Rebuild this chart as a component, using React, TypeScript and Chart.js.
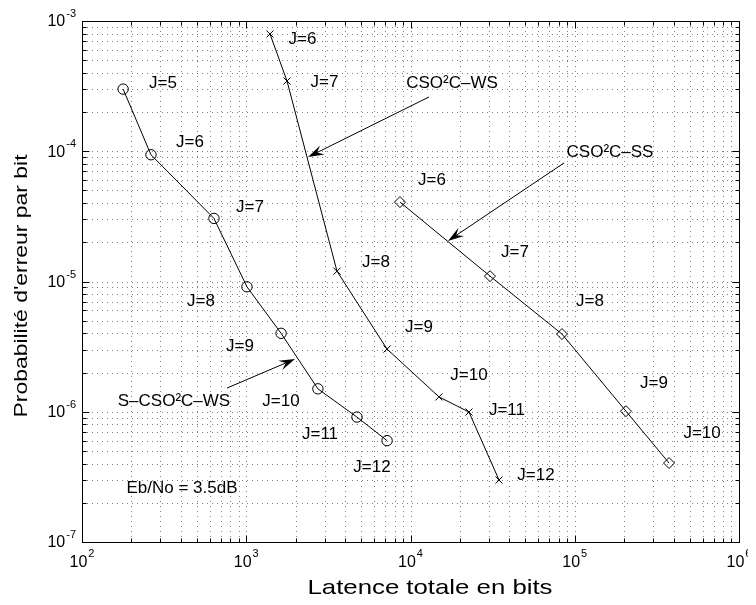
import { useEffect, useRef } from "react";
import { Chart, registerables } from "chart.js";

Chart.register(...registerables);

// S-CSO²C-WS (circles), J = 5 … 12
const latenceSWS = [178, 263, 636, 1010, 1630, 2730, 4720, 7200];
const erreurSWS = [3.0e-4, 9.4e-5, 3.05e-5, 9.1e-6, 4.0e-6, 1.5e-6, 9.1e-7, 6.0e-7];
const labelsSWS = ["J=5", "J=6", "J=7", "J=8", "J=9", "J=10", "J=11", "J=12"];
const labelXSWS = [311, 454, 1054, 530, 916, 1628, 2812, 5830];
const labelYSWS = [3.34e-4, 1.18e-4, 3.73e-5, 7.08e-6, 3.2e-6, 1.21e-6, 6.75e-7, 3.77e-7];

// CSO²C-WS (crosses), J = 6 … 12
const latenceWS = [1395, 1771, 3568, 7194, 14910, 22700, 34590];
const erreurWS = [7.95e-4, 3.46e-4, 1.2e-5, 3.03e-6, 1.3e-6, 9.95e-7, 2.99e-7];
const labelsWS = ["J=6", "J=7", "J=8", "J=9", "J=10", "J=11", "J=12"];
const labelXWS = [2200, 2995, 6166, 11270, 22700, 38670, 58080];
const labelYWS = [7.18e-4, 3.36e-4, 1.41e-5, 4.48e-6, 1.91e-6, 1.03e-6, 3.27e-7];

// CSO²C-SS (diamonds), J = 6 … 10
const latenceSS = [8630, 30480, 83600, 205000, 375000];
const erreurSS = [4.07e-5, 1.1e-5, 3.95e-6, 1.01e-6, 4.04e-7];
const labelsSS = ["J=6", "J=7", "J=8", "J=9", "J=10"];
const labelXSS = [13520, 43270, 123900, 303800, 595700];
const labelYSS = [6.02e-5, 1.68e-5, 7.08e-6, 1.66e-6, 6.87e-7];

// Curve names and the operating point note
const noteTexts = ["CSO²C–WS", "CSO²C–SS", "S–CSO²C–WS", "Eb/No = 3.5dB"];
const noteX = [17890, 163900, 363, 406];
const noteY = [3.34e-4, 9.87e-5, 1.21e-6, 2.6e-7];

// Arrows pointing from the curve names to the curves
const arrowFromX = [12960, 86000, 763];
const arrowFromY = [2.61e-4, 8.13e-5, 1.52e-6];
const arrowToX = [2377, 16910, 1981];
const arrowToY = [9.03e-5, 2.05e-5, 2.54e-6];

// Decade exponents of the two log axes
const xExponents = [2, 3, 4, 5, 6];
const yExponents = [-7, -6, -5, -4, -3];

const xTitle = "Latence totale en bits";
const yTitle = "Probabilité d'erreur par bit";

const FONT = '"Liberation Sans", Arial, Helvetica, sans-serif';

function gridValues(exps: number[]) {
  const out: { v: number; major: boolean }[] = [];
  for (let i = 0; i < exps.length; i++) {
    const base = Math.pow(10, exps[i]);
    out.push({ v: base, major: true });
    if (i < exps.length - 1) {
      for (let m = 2; m <= 9; m++) out.push({ v: m * base, major: false });
    }
  }
  return out;
}

const matlabAxes = {
  id: "matlabAxes",
  beforeDatasetsDraw(chart: any) {
    const { ctx, chartArea: a, scales } = chart;
    const xs = scales.x;
    const ys = scales.y;
    ctx.save();
    ctx.strokeStyle = "rgba(0,0,0,0.5)";
    ctx.lineWidth = 1;
    ctx.setLineDash([1, 4]);
    for (const g of gridValues(xExponents)) {
      const px = Math.round(xs.getPixelForValue(g.v)) + 0.5;
      if (px <= a.left + 1 || px >= a.right - 1) continue;
      ctx.beginPath();
      ctx.moveTo(px, a.top);
      ctx.lineTo(px, a.bottom);
      ctx.stroke();
    }
    for (const g of gridValues(yExponents)) {
      const py = Math.round(ys.getPixelForValue(g.v)) + 0.5;
      if (py <= a.top + 1 || py >= a.bottom - 1) continue;
      ctx.beginPath();
      ctx.moveTo(a.left, py);
      ctx.lineTo(a.right, py);
      ctx.stroke();
    }
    ctx.restore();
  },
  afterDatasetsDraw(chart: any) {
    const { ctx, chartArea: a, scales } = chart;
    const xs = scales.x;
    const ys = scales.y;
    ctx.save();
    ctx.setLineDash([]);
    ctx.strokeStyle = "#000";
    ctx.fillStyle = "#000";
    ctx.lineWidth = 1;

    // box
    const L = Math.round(a.left) + 0.5;
    const R = Math.round(a.right) + 0.5;
    const T = Math.round(a.top) + 0.5;
    const B = Math.round(a.bottom) + 0.5;
    ctx.strokeRect(L, T, R - L, B - T);

    // inward tick marks on all four sides
    ctx.beginPath();
    for (const g of gridValues(xExponents)) {
      const px = Math.round(xs.getPixelForValue(g.v)) + 0.5;
      const len = g.major ? 7 : 4;
      ctx.moveTo(px, B);
      ctx.lineTo(px, B - len);
      ctx.moveTo(px, T);
      ctx.lineTo(px, T + len);
    }
    for (const g of gridValues(yExponents)) {
      const py = Math.round(ys.getPixelForValue(g.v)) + 0.5;
      const len = g.major ? 7 : 4;
      ctx.moveTo(L, py);
      ctx.lineTo(L + len, py);
      ctx.moveTo(R, py);
      ctx.lineTo(R - len, py);
    }
    ctx.stroke();

    // tick labels 10^n
    const baseFont = `16px ${FONT}`;
    const expFont = `11px ${FONT}`;
    ctx.textBaseline = "middle";
    ctx.textAlign = "left";
    for (const e of xExponents) {
      const px = xs.getPixelForValue(Math.pow(10, e));
      ctx.font = baseFont;
      const wb = ctx.measureText("10").width;
      ctx.font = expFont;
      const es = String(e);
      const we = ctx.measureText(es).width;
      const x0 = px - (wb + 1 + we) / 2;
      ctx.font = baseFont;
      ctx.fillText("10", x0, a.bottom + 21);
      ctx.font = expFont;
      ctx.fillText(es, x0 + wb + 1, a.bottom + 12);
    }
    for (const e of yExponents) {
      const py = ys.getPixelForValue(Math.pow(10, e));
      ctx.font = baseFont;
      const wb = ctx.measureText("10").width;
      ctx.font = expFont;
      const es = String(e);
      const we = ctx.measureText(es).width;
      const xr = a.left - 6;
      ctx.font = expFont;
      ctx.fillText(es, xr - we, py - 7);
      ctx.font = baseFont;
      ctx.fillText("10", xr - we - 1 - wb, py + 1);
    }

    // axis titles
    ctx.textAlign = "center";
    ctx.font = `21px ${FONT}`;
    const wx = ctx.measureText(xTitle).width;
    ctx.save();
    ctx.translate(422, a.bottom + 46);
    ctx.scale(245 / wx, 1);
    ctx.fillText(xTitle, 0, 0);
    ctx.restore();

    ctx.font = `18px ${FONT}`;
    const wy = ctx.measureText(yTitle).width;
    ctx.save();
    ctx.translate(14.5, 278);
    ctx.rotate(-Math.PI / 2);
    ctx.scale(263 / wy, 1);
    ctx.fillText(yTitle, 0, 0);
    ctx.restore();

    // J labels and curve names
    ctx.font = `17px ${FONT}`;
    const put = (texts: string[], lx: number[], ly: number[]) => {
      for (let i = 0; i < texts.length; i++) {
        ctx.fillText(texts[i], xs.getPixelForValue(lx[i]), ys.getPixelForValue(ly[i]));
      }
    };
    put(labelsSWS, labelXSWS, labelYSWS);
    put(labelsWS, labelXWS, labelYWS);
    put(labelsSS, labelXSS, labelYSS);
    put(noteTexts, noteX, noteY);

    // arrows
    for (let i = 0; i < arrowFromX.length; i++) {
      const x1 = xs.getPixelForValue(arrowFromX[i]);
      const y1 = ys.getPixelForValue(arrowFromY[i]);
      const x2 = xs.getPixelForValue(arrowToX[i]);
      const y2 = ys.getPixelForValue(arrowToY[i]);
      const dx = x2 - x1;
      const dy = y2 - y1;
      const d = Math.hypot(dx, dy);
      const ux = dx / d;
      const uy = dy / d;
      const nx = -uy;
      const ny = ux;
      const hl = 16;
      const hw = 5;
      const notch = 10;
      ctx.beginPath();
      ctx.moveTo(x1, y1);
      ctx.lineTo(x2 - ux * notch, y2 - uy * notch);
      ctx.stroke();
      ctx.beginPath();
      ctx.moveTo(x2, y2);
      ctx.lineTo(x2 - ux * hl + nx * hw, y2 - uy * hl + ny * hw);
      ctx.lineTo(x2 - ux * notch, y2 - uy * notch);
      ctx.lineTo(x2 - ux * hl - nx * hw, y2 - uy * hl - ny * hw);
      ctx.closePath();
      ctx.fill();
    }
    ctx.restore();
  },
};

function toPoints(xv: number[], yv: number[]) {
  return xv.map((x, i) => ({ x, y: yv[i] }));
}

export default function App() {
  const ref = useRef<HTMLCanvasElement>(null);

  useEffect(() => {
    if (!ref.current) return;
    const common = {
      borderColor: "#000",
      borderWidth: 1,
      pointBorderColor: "#000",
      pointBackgroundColor: "rgba(0,0,0,0)",
      pointBorderWidth: 1,
      tension: 0,
      fill: false,
      clip: false as const,
    };
    const chart = new Chart(ref.current, {
      type: "line",
      data: {
        datasets: [
          { ...common, label: "S-CSO²C-WS", data: toPoints(latenceSWS, erreurSWS), pointStyle: "circle", pointRadius: 5.2 },
          { ...common, label: "CSO²C-WS", data: toPoints(latenceWS, erreurWS), pointStyle: "crossRot", pointRadius: 5 },
          { ...common, label: "CSO²C-SS", data: toPoints(latenceSS, erreurSS), pointStyle: "rectRot", pointRadius: 5.5 },
        ],
      },
      options: {
        responsive: false,
        animation: false,
        events: [],
        layout: { padding: { left: 74, right: 17, top: 13, bottom: 55 } },
        plugins: { legend: { display: false }, tooltip: { enabled: false } },
        scales: {
          x: { type: "logarithmic", min: 100, max: 1e6, display: false },
          y: { type: "logarithmic", min: 1e-7, max: 1e-3, display: false },
        },
      },
      plugins: [matlabAxes],
    });
    return () => chart.destroy();
  }, []);

  return (
    <div style={{ width: 748, height: 589, background: "#fff" }}>
      <canvas ref={ref} width={748} height={589} style={{ display: "block", width: "748px", height: "589px" }} />
    </div>
  );
}
